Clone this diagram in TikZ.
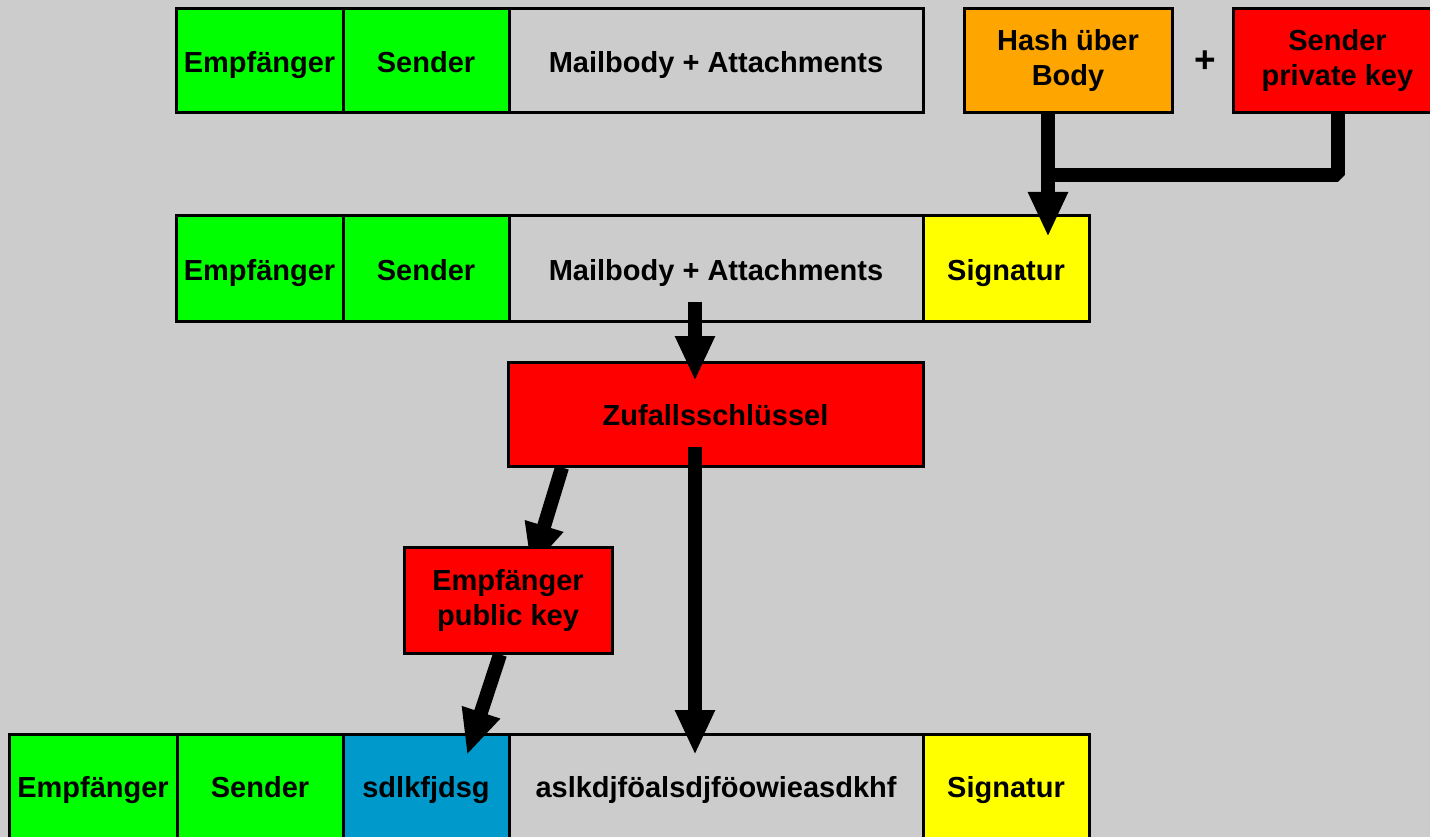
\documentclass[tikz,border=0pt]{standalone}
\usepackage{fontspec}
\setmainfont{Liberation Sans}
\usetikzlibrary{arrows.meta}
\definecolor{bgc}{HTML}{CCCCCC}
\definecolor{grn}{HTML}{00FF00}
\definecolor{rd}{HTML}{FF0000}
\definecolor{orng}{HTML}{FFA500}
\definecolor{ylw}{HTML}{FFFF00}
\definecolor{blu}{HTML}{0099CC}
\begin{document}
\begin{tikzpicture}[x=1pt,y=-1pt,
  box/.style={draw=black, line width=3pt, inner sep=0pt, align=center,
    font=\fontsize{29}{35}\selectfont\bfseries},
  one/.style={text height=23pt, text depth=0pt},
  conn/.style={line width=14pt, -{Triangle[width=37pt,length=45pt]}},
  link/.style={line width=14pt, line join=bevel}]
\fill[bgc] (0,0) rectangle (1430,837);
\useasboundingbox (0,0) rectangle (1430,837);
\clip (0,0) rectangle (1430,837);
% row 1
\node[box,one,fill=grn,minimum width=167pt,minimum height=104pt] (e1) at (259.5,61) {Empfänger};
\node[box,one,fill=grn,minimum width=166pt,minimum height=104pt] (s1) at (426,61) {Sender};
\node[box,one,fill=bgc,minimum width=414pt,minimum height=104pt] (m1) at (716,61) {Mailbody + Attachments};
\node[box,fill=orng,minimum width=208pt,minimum height=104pt] (hash) at (1068,61) {\raisebox{-2pt}{Hash über}\\\raisebox{-2pt}{Body}};
\node[font=\fontsize{37}{40}\selectfont\bfseries, inner sep=0pt] (plus) at (1205,62) {+};
\node[box,fill=rd,minimum width=209pt,minimum height=104pt] (pk) at (1337.5,61) {\raisebox{-2pt}{Sender}\\\raisebox{-2pt}{private key}};
% row 2
\node[box,one,fill=grn,minimum width=167pt,minimum height=105pt] (e2) at (259.5,268.5) {Empfänger};
\node[box,one,fill=grn,minimum width=166pt,minimum height=105pt] (s2) at (426,268.5) {Sender};
\node[box,one,fill=bgc,minimum width=414pt,minimum height=105pt] (m2) at (716,268.5) {Mailbody + Attachments};
\node[box,one,fill=ylw,minimum width=166pt,minimum height=105pt] (sig2) at (1006,268.5) {Signatur};
% random key
\node[box,one,fill=rd,minimum width=415pt,minimum height=104pt] (zuf) at (715.5,414) {Zufallsschlüssel};
% row 4
\node[box,one,fill=grn,minimum width=168pt,minimum height=104pt] (e4) at (93,786) {Empfänger};
\node[box,one,fill=grn,minimum width=166pt,minimum height=104pt] (s4) at (260,786) {Sender};
\node[box,one,fill=blu,minimum width=166pt,minimum height=104pt] (b4) at (426,786) {sdlkfjdsg};
\node[box,one,fill=bgc,minimum width=414pt,minimum height=104pt] (a4) at (716,786) {aslkdjföalsdjföowieasdkhf};
\node[box,one,fill=ylw,minimum width=166pt,minimum height=104pt] (sig4) at (1006,786) {Signatur};
% coordinates
\coordinate (sigin) at (1048,237);
\coordinate (junc) at (1048,175);
\coordinate (zufin) at (695,381);
\coordinate (ain) at (695,755);
\coordinate (pkin) at (531,569);
\coordinate (bin) at (467,755);
% arrow under public key box
\draw[conn] ([xshift=-153.5pt]zuf.south) -- (pkin);
\node[box,fill=rd,minimum width=208pt,minimum height=106pt] (pub) at (508,600) {\raisebox{-1pt}{Empfänger}\\\raisebox{-1pt}{public key}};
% other connectors
\draw[conn] ([xshift=-20pt]hash.south) -- (sigin);
\draw[link] (pk.south) |- (junc);
\draw[conn] ([xshift=-21pt,yshift=21pt]m2.south) -- (zufin);
\draw[conn] ([xshift=-20.5pt,yshift=21pt]zuf.south) -- (ain);
\draw[conn] ([xshift=-8pt]pub.south) -- (bin);
\end{tikzpicture}
\end{document}
